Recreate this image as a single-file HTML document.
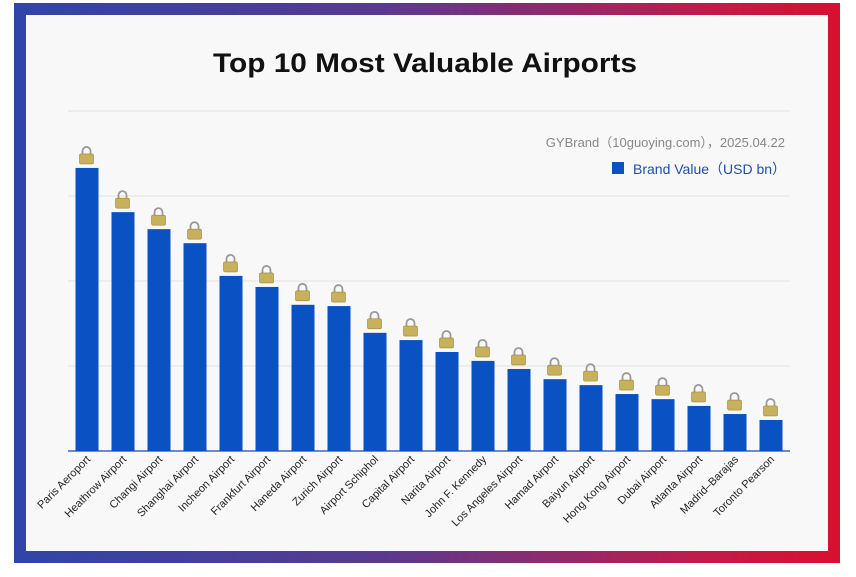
<!DOCTYPE html>
<html><head><meta charset="utf-8"><style>
html,body{margin:0;padding:0;background:#fff;}
body{width:856px;height:577px;position:relative;overflow:hidden;font-family:"Liberation Sans","Noto Sans CJK SC",sans-serif;}
#frame{position:absolute;left:14px;top:3px;width:826px;height:560px;background:linear-gradient(90deg,#2f45a8 0%,#5a3a90 45%,#c41a48 85%,#d8102e 100%);}
#inner{position:absolute;left:26px;top:15px;width:802px;height:536px;background:#f8f8f8;}
svg{position:absolute;left:0;top:0;}
</style></head><body>
<div id="frame"></div>
<div id="inner"></div>
<svg id="chart" width="856" height="577">
<text x="425" y="72" text-anchor="middle" font-size="27" font-weight="bold" fill="#111" textLength="424" lengthAdjust="spacingAndGlyphs">Top 10 Most Valuable Airports</text>
<text x="785" y="147" text-anchor="end" font-size="13" fill="#888">GYBrand（10guoying.com），2025.04.22</text>
<rect x="612" y="162" width="12" height="12" fill="#0a52c4"></rect>
<text x="633" y="174" font-size="14" fill="#1a4fb5">Brand Value（USD bn）</text>
<g id="grid"></g><g id="bars"></g><g id="labels"></g>
</svg>
<script>
const categories=["Paris Aeroport","Heathrow Airport","Changi Airport","Shanghai Airport","Incheon Airport","Frankfurt Airport","Haneda Airport","Zurich Airport","Airport Schiphol","Capital Airport","Narita Airport","John F. Kennedy","Los Angeles Airport","Hamad Airport","Baiyun Airport","Hong Kong Airport","Dubai Airport","Atlanta Airport","Madrid–Barajas","Toronto Pearson"];
const values=[66.6,56.2,52.2,48.9,41.2,38.6,34.4,34.1,27.8,26.1,23.3,21.2,19.3,16.9,15.5,13.4,12.2,10.6,8.7,7.3];
const gridValues=[0,20,40,60,80];
const NS="http://www.w3.org/2000/svg";
const x0=69,step=36,bw=23,base=451,pxPer=85/20;
const y=v=>base-v*pxPer, xc=i=>x0+18+i*step;
const grid=document.getElementById('grid'),bars=document.getElementById('bars'),labels=document.getElementById('labels');
gridValues.forEach(g=>{if(g===0)return;const l=document.createElementNS(NS,'line');
l.setAttribute('x1',68);l.setAttribute('x2',790);l.setAttribute('y1',y(g));l.setAttribute('y2',y(g));l.setAttribute('stroke','#e2e2e2');


grid.appendChild(l);});
const ax=document.createElementNS(NS,'line');ax.setAttribute('x1',68);ax.setAttribute('x2',790);ax.setAttribute('y1',base);ax.setAttribute('y2',base);ax.setAttribute('stroke','#3a66c8');ax.setAttribute('stroke-width','1.5');


grid.appendChild(ax);
categories.forEach((c,i)=>{const v=values[i];const r=document.createElementNS(NS,'rect');
r.setAttribute('x',xc(i)-bw/2);r.setAttribute('y',y(v));r.setAttribute('width',bw);r.setAttribute('height',base-y(v));r.setAttribute('fill','#0a52c4');


bars.appendChild(r);
const g=document.createElementNS(NS,'g');g.setAttribute('transform',`translate(${xc(i)-9},${y(v)-22})`);
g.innerHTML='<path d="M4.5 8 V5 a4 4 0 0 1 8 0 V8" fill="none" stroke="#999" stroke-width="1.8"/><rect x="1.5" y="8" width="14" height="10" rx="1.5" fill="#c8b15a" stroke="#9a8640" stroke-width="0.6"/>';


bars.appendChild(g);
const t=document.createElementNS(NS,'text');t.setAttribute('x',xc(i)+4);t.setAttribute('y',base+9);t.setAttribute('text-anchor','end');t.setAttribute('font-size','11');t.setAttribute('fill','#222');
t.setAttribute('transform',`rotate(-45 ${xc(i)+4} ${base+9})`);t.textContent=c;


labels.appendChild(t);});
</script>
</body></html>
